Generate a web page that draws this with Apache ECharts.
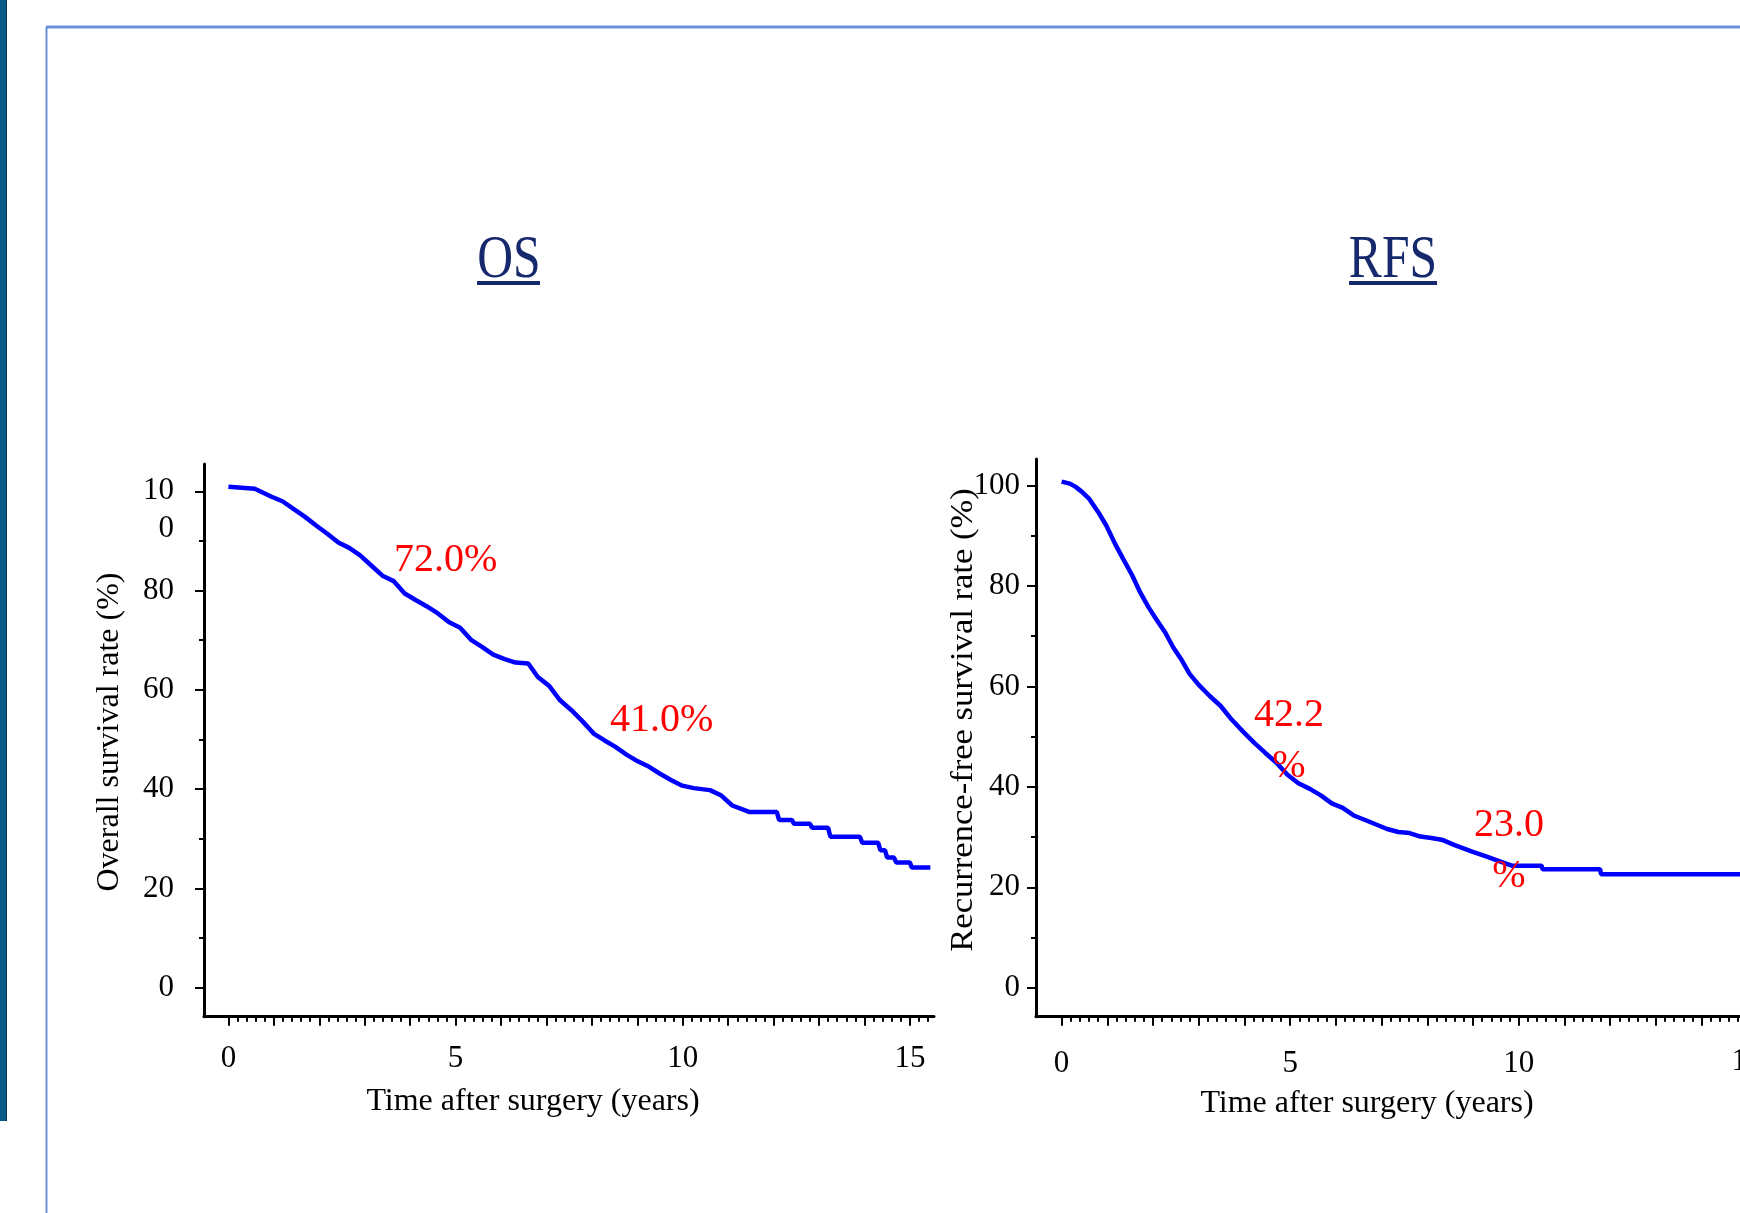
<!DOCTYPE html>
<html><head><meta charset="utf-8">
<script src="https://cdn.jsdelivr.net/npm/echarts@6/dist/echarts.min.js"></script>
<style>html,body{margin:0;padding:0;background:#fff;overflow:hidden;}#c{width:1740px;height:1213px;}</style>
</head><body><div id="c"></div>
<script>
// ---- data ----
const osTime = [0, 0.29, 0.58, 0.95, 1.19, 1.44, 1.68, 1.93, 2.17, 2.42, 2.66, 2.90, 3.15, 3.39, 3.64, 3.88, 4.12, 4.37, 4.61, 4.86, 5.10, 5.35, 5.59, 5.83, 6.08, 6.32, 6.60, 6.81, 7.06, 7.30, 7.55, 7.79, 8.04, 8.28, 8.52, 8.77, 9.01, 9.26, 9.50, 9.75, 9.99, 10.24, 10.60, 10.85, 11.09, 11.46, 12.07, 12.12, 12.40, 12.45, 12.80, 12.85, 13.20, 13.25, 13.90, 13.95, 14.30, 14.35, 14.45, 14.50, 14.65, 14.70, 15.00, 15.04, 15.45];
const osRate = [100.9, 100.7, 100.5, 98.9, 98.0, 96.4, 94.9, 93.1, 91.5, 89.7, 88.6, 87.1, 85.0, 83.0, 81.9, 79.4, 78.1, 76.8, 75.4, 73.6, 72.5, 70.0, 68.6, 67.1, 66.2, 65.5, 65.3, 62.6, 60.8, 57.9, 55.9, 53.7, 51.2, 49.8, 48.5, 46.9, 45.6, 44.5, 43.1, 41.8, 40.7, 40.2, 39.8, 38.7, 36.7, 35.4, 35.4, 33.8, 33.8, 33.0, 33.0, 32.2, 32.2, 30.4, 30.4, 29.2, 29.2, 27.7, 27.7, 26.2, 26.2, 25.2, 25.2, 24.2, 24.2];
const rfsTime = [0, 0.18, 0.30, 0.44, 0.61, 0.81, 0.98, 1.17, 1.34, 1.54, 1.71, 1.90, 2.07, 2.27, 2.44, 2.63, 2.80, 3.00, 3.24, 3.48, 3.72, 3.97, 4.21, 4.45, 4.70, 4.94, 5.18, 5.43, 5.67, 5.91, 6.15, 6.39, 6.64, 6.88, 7.12, 7.37, 7.61, 7.85, 8.09, 8.34, 8.60, 8.98, 9.30, 9.60, 9.85, 10.50, 10.52, 11.78, 11.80, 15.40];
const rfsRate = [100.8, 100.4, 99.8, 98.8, 97.3, 94.6, 92.0, 88.4, 85.5, 82.2, 78.9, 75.8, 73.4, 70.7, 67.8, 65.2, 62.5, 60.3, 58.1, 56.1, 53.4, 51.0, 48.8, 46.8, 44.8, 42.4, 40.7, 39.6, 38.3, 36.7, 35.8, 34.3, 33.4, 32.5, 31.6, 31.0, 30.8, 30.1, 29.8, 29.4, 28.4, 27.1, 26.1, 25.1, 24.3, 24.3, 23.6, 23.6, 22.6, 22.6];
const xLabelTicks = [0, 5, 10, 15];
const xMajorTicks = [0,1,2,3,4,5,6,7,8,9,10,11,12,13,14,15];
const yTicks = [0, 20, 40, 60, 80, 100];
const yMinorTicks = [10, 30, 50, 70, 90];
const panelTitles = ['OS', 'RFS'];
const yTitles = ['Overall survival rate (%)', 'Recurrence-free survival rate (%)'];
const xTitle = 'Time after surgery (years)';
const osNotes = ['72.0%', '41.0%'];
const rfsNotes = ['42.2\n%', '23.0\n%'];

// ---- chart ----
const FONT = "'Liberation Serif', 'Times New Roman', serif";
const xMinor = [];
for (let i = 0; i <= 80; i++) { const v = Math.round(i * 2) / 10; if (v % 1 !== 0) xMinor.push(v); }

const chart = echarts.init(document.getElementById('c'), null, {renderer: 'canvas'});

function axesFor(grid, xmin, xmax, ymin, ymax, yLabelMargin, xLabelMargin, yFmt) {
  const base = {gridIndex: grid, type: 'value', splitLine: {show: false}};
  const line = {show: true, onZero: false, lineStyle: {color: '#000', width: 3}};
  const noLine = {show: false, onZero: false};
  const xs = [
    Object.assign({}, base, {min: xmin, max: xmax, position: 'bottom', axisLine: line,
      axisTick: {show: true, customValues: xMajorTicks.filter(v => v <= xmax), length: 9, lineStyle: {color: '#000', width: 2}},
      axisLabel: {show: true, customValues: xLabelTicks.filter(v => v <= xmax), margin: xLabelMargin, fontFamily: FONT, fontSize: 31, color: '#000'}}),
    Object.assign({}, base, {min: xmin, max: xmax, position: 'bottom', axisLine: noLine,
      axisTick: {show: true, customValues: xMinor.filter(v => v <= xmax), length: 5, lineStyle: {color: '#000', width: 2}},
      axisLabel: {show: false}})
  ];
  const ys = [
    Object.assign({}, base, {min: ymin, max: ymax, position: 'left', axisLine: line,
      axisTick: {show: true, customValues: yTicks, length: 9, lineStyle: {color: '#000', width: 2}},
      axisLabel: {show: true, customValues: yTicks, margin: yLabelMargin, fontFamily: FONT, fontSize: 31, color: '#000', lineHeight: 38, formatter: yFmt}}),
    Object.assign({}, base, {min: ymin, max: ymax, position: 'left', axisLine: noLine,
      axisTick: {show: true, customValues: yMinorTicks, length: 5, lineStyle: {color: '#000', width: 2}},
      axisLabel: {show: false}})
  ];
  return {xs, ys};
}

const osAx = axesFor(0, -0.537, 15.53, -5.85, 105.5, 30, 27, v => v === 100 ? ' \n10\n0' : String(v));
const rfsAx = axesFor(1, -0.56, 14.84, -5.78, 105.3, 16, 32, v => String(v));

const redText = (txt, x, y, align) => ({type: 'text', x, y, z: 10,
  style: {text: txt, fill: '#FF0000', font: '40px ' + FONT, textAlign: align, textVerticalAlign: 'middle', lineHeight: 51}});
const blackText = (txt, x, y, rot, sx, fs) => ({type: 'text', x, y, rotation: rot, scaleX: sx || 1,
  style: {text: txt, fill: '#000', font: (fs || 32) + 'px ' + FONT, textAlign: 'center', textVerticalAlign: 'middle'}});
const heading = (txt, x, y) => ({type: 'text', x, y, scaleX: 0.8,
  style: {text: txt, fill: '#16296C', font: '62px ' + FONT, textAlign: 'center', textVerticalAlign: 'middle'}});

chart.setOption({
  animation: false,
  backgroundColor: '#fff',
  grid: [
    {left: 204, top: 464, width: 730, height: 552.7, containLabel: false},
    {left: 1036, top: 459, width: 704, height: 557.7, containLabel: false}
  ],
  xAxis: osAx.xs.concat(rfsAx.xs),
  yAxis: osAx.ys.concat(rfsAx.ys),
  series: [
    {type: 'line', name: 'OS', xAxisIndex: 0, yAxisIndex: 0, showSymbol: false,
     lineStyle: {color: '#0000FF', width: 4.5}, data: osTime.map((t, i) => [t, osRate[i]])},
    {type: 'line', name: 'RFS', xAxisIndex: 2, yAxisIndex: 2, showSymbol: false,
     lineStyle: {color: '#0000FF', width: 4.5}, data: rfsTime.map((t, i) => [t, rfsRate[i]])}
  ],
  graphic: [
    {type: 'rect', shape: {x: 0, y: 0, width: 7, height: 1121}, style: {fill: '#0B5A8A'}},
    {type: 'line', shape: {x1: 6.5, y1: 0, x2: 6.5, y2: 1121}, style: {stroke: '#06304d', lineWidth: 1}},
    {type: 'line', shape: {x1: 46, y1: 27, x2: 1740, y2: 27}, style: {stroke: '#6C90DA', lineWidth: 3}},
    {type: 'line', shape: {x1: 46.5, y1: 27, x2: 46.5, y2: 1213}, style: {stroke: '#6C90DA', lineWidth: 2}},
    heading(panelTitles[0], 509, 261),
    {type: 'rect', shape: {x: 477, y: 281, width: 63, height: 4}, style: {fill: '#16296C'}},
    heading(panelTitles[1], 1393, 261),
    {type: 'rect', shape: {x: 1349, y: 281, width: 88, height: 4}, style: {fill: '#16296C'}},
    blackText(yTitles[0], 110, 732, Math.PI / 2),
    blackText(xTitle, 533, 1102, 0),
    blackText(yTitles[1], 964, 720, Math.PI / 2, 1.08),
    blackText(xTitle, 1367, 1104, 0),
    blackText(String(xLabelTicks[3]), 1747, 1062, 0, 1, 31),
    redText(osNotes[0], 394, 560, 'left'),
    redText(osNotes[1], 610, 720, 'left'),
    redText(rfsNotes[0], 1289, 741, 'center'),
    redText(rfsNotes[1], 1509, 851, 'center')
  ]
});
</script></body></html>
